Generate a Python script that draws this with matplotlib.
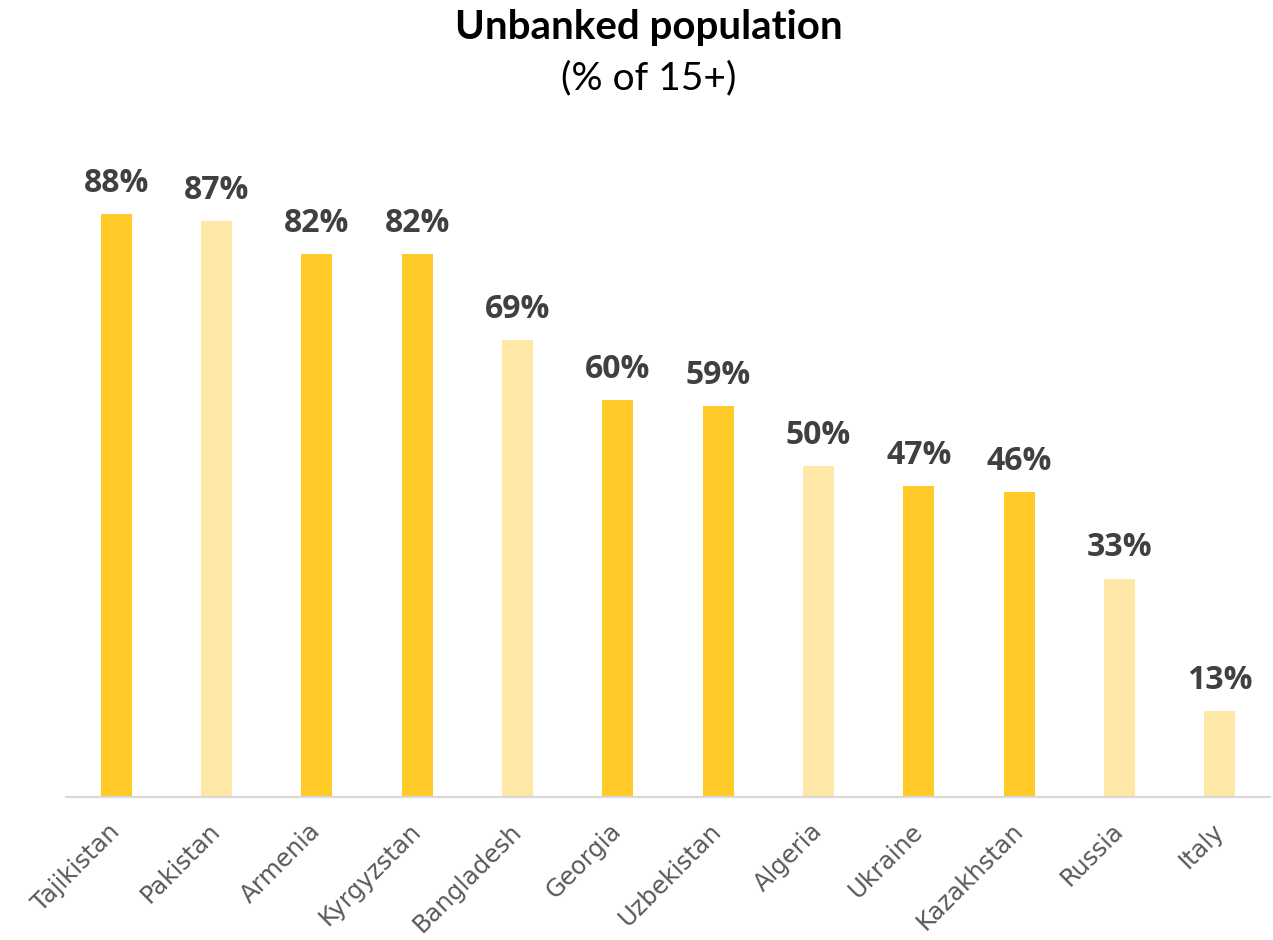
import matplotlib.pyplot as plt

countries = ["Tajikistan", "Pakistan", "Armenia", "Kyrgyzstan", "Bangladesh", "Georgia",
             "Uzbekistan", "Algeria", "Ukraine", "Kazakhstan", "Russia", "Italy"]
unbanked = [88, 87, 82, 82, 69, 60, 59, 50, 47, 46, 33, 13]
highlight = [True, False, True, True, False, True, True, False, True, True, False, False]

DARK = "#FFCA28"
LIGHT = "#FFE8A5"

fig = plt.figure(figsize=(12.73, 9.40), dpi=100)
W, H = 1273, 940
# axes box in pixels: left 66, right 1270, baseline 797, top 135
ax = fig.add_axes([66 / W, (H - 797) / H, (1270 - 66) / W, (797 - 135) / H])

x = range(len(countries))
colors = [DARK if h else LIGHT for h in highlight]
ax.bar(x, unbanked, width=0.31, color=colors, zorder=2)

for xi, v in zip(x, unbanked):
    ax.annotate(f"{v}%", (xi, v), xytext=(0, 16), textcoords="offset points",
                ha="center", va="baseline", fontsize=23, fontweight="bold",
                color="#404040", family="Open Sans")

ax.set_xlim(-0.5, 11.5)
ax.set_ylim(0, 100)
ax.set_yticks([])
for side in ["top", "right", "left"]:
    ax.spines[side].set_visible(False)
ax.spines["bottom"].set_color("#D9D9D9")
ax.spines["bottom"].set_linewidth(1.6)
ax.tick_params(axis="x", length=0, pad=22)
ax.set_xticks(list(x))
ax.set_xticklabels(countries, rotation=45, ha="right", va="center",
                   rotation_mode="anchor", fontsize=17.5, color="#595959",
                   family="DejaVu Sans")

fig.text(649 / W, 1 - 27 / H, "Unbanked population", ha="center", va="center",
         fontsize=29, fontweight="bold", family="Lato", color="black")
fig.text(649 / W, 1 - 78 / H, "(% of 15+)", ha="center", va="center",
         fontsize=28, family="Lato", color="black")

fig.savefig("out.png", dpi=100)
